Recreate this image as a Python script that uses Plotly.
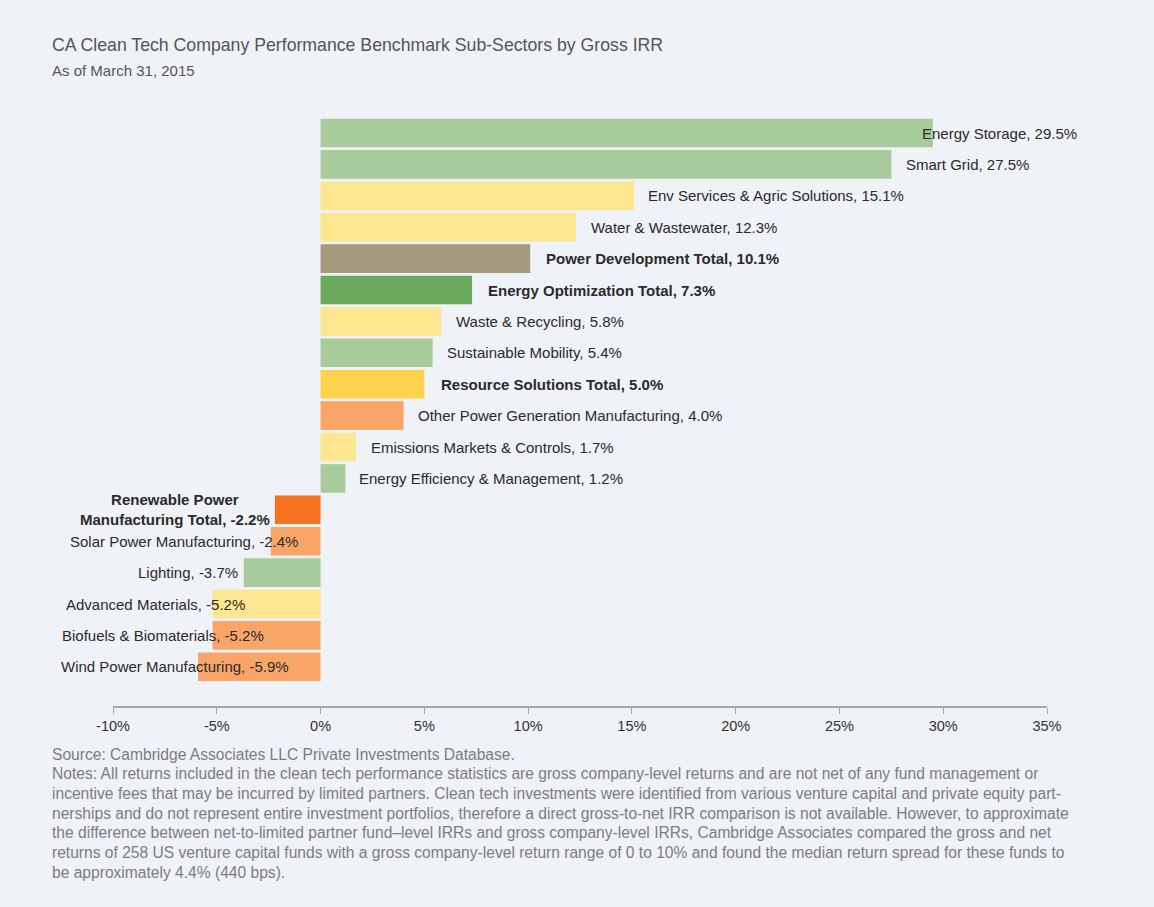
import plotly.graph_objects as go

# ---- data ----
sectors = [
    "Energy Storage", "Smart Grid", "Env Services & Agric Solutions", "Water & Wastewater",
    "Power Development Total", "Energy Optimization Total", "Waste & Recycling",
    "Sustainable Mobility", "Resource Solutions Total", "Other Power Generation Manufacturing",
    "Emissions Markets & Controls", "Energy Efficiency & Management",
    "Renewable Power Manufacturing Total", "Solar Power Manufacturing", "Lighting",
    "Advanced Materials", "Biofuels & Biomaterials", "Wind Power Manufacturing",
]
irr = [29.5, 27.5, 15.1, 12.3, 10.1, 7.3, 5.8, 5.4, 5.0, 4.0, 1.7, 1.2,
       -2.2, -2.4, -3.7, -5.2, -5.2, -5.9]
group = ["EO", "EO", "RS", "RS", "PDT", "EOT", "RS", "EO", "RST", "PD", "RS", "EO",
         "RPT", "PD", "EO", "RS", "PD", "PD"]
is_total = [False, False, False, False, True, True, False, False, True, False, False, False,
            True, False, False, False, False, False]
label_text = [
    "Energy Storage, 29.5%", "Smart Grid, 27.5%", "Env Services & Agric Solutions, 15.1%",
    "Water & Wastewater, 12.3%", "Power Development Total, 10.1%",
    "Energy Optimization Total, 7.3%", "Waste & Recycling, 5.8%", "Sustainable Mobility, 5.4%",
    "Resource Solutions Total, 5.0%", "Other Power Generation Manufacturing, 4.0%",
    "Emissions Markets & Controls, 1.7%", "Energy Efficiency & Management, 1.2%",
    "Renewable Power<br>Manufacturing Total, -2.2%", "Solar Power Manufacturing, -2.4%",
    "Lighting, -3.7%", "Advanced Materials, -5.2%", "Biofuels & Biomaterials, -5.2%",
    "Wind Power Manufacturing, -5.9%",
]
x_ticks = [-10, -5, 0, 5, 10, 15, 20, 25, 30, 35]
footnote = [
    "Source: Cambridge Associates LLC Private Investments Database.",
    "Notes: All returns included in the clean tech performance statistics are gross company-level returns and are not net of any fund management or",
    "incentive fees that may be incurred by limited partners. Clean tech investments were identified from various venture capital and private equity part-",
    "nerships and do not represent entire investment portfolios, therefore a direct gross-to-net IRR comparison is not available. However, to approximate",
    "the difference between net-to-limited partner fund\u2013level IRRs and gross company-level IRRs, Cambridge Associates compared the gross and net",
    "returns of 258 US venture capital funds with a gross company-level return range of 0 to 10% and found the median return spread for these funds to",
    "be approximately 4.4% (440 bps).",
]

# ---- styles ----
palette = {
    "EO": "#a8cb9b", "RS": "#fde690", "PDT": "#a39a7d", "EOT": "#6caa5f",
    "RST": "#fdd34c", "PD": "#f9a568", "RPT": "#f7731f",
}
# pixel shifts of labels relative to bar end
label_shift = [-13, 13, 12, 13, 14, 14, 13, 12, 15, 12, 13, 12,
               -3, 29, -4, 34, 53, 93]

W, H = 1154, 907
ML, MR, MT, MB = 113, W - 1047, 118, H - 706
plot_h = H - MT - MB
pitch = 31.4
y_top = -15 / pitch
y_bot = y_top + plot_h / pitch

fig = go.Figure()
fig.add_trace(go.Bar(
    x=irr, y=sectors, orientation="h",
    marker=dict(color=[palette[g] for g in group], line=dict(width=0)),
    width=0.91, hoverinfo="x+y",
))

FONT = "Arial, Liberation Sans, sans-serif"
for s, v, t, tot, sh in zip(sectors, irr, label_text, is_total, label_shift):
    txt = f"<b>{t}</b>" if tot else t
    fig.add_annotation(
        x=v, y=s, xref="x", yref="y", text=txt, showarrow=False,
        xanchor="left" if v >= 0 else "right", xshift=sh,
        align="center", font=dict(family=FONT, size=15, color="#2b2b2b"),
    )


def py(p):
    return (H - MB - p) / plot_h


annots = [
    ("CA Clean Tech Company Performance Benchmark Sub-Sectors by Gross IRR", 45, 17.7, "#555555"),
    ("As of March 31, 2015", 71, 15, "#555555"),
]
for i, line in enumerate(footnote):
    annots.append((line, 754 + i * 19.7, 15.6, "#7d7d7d"))

for txt, ypix, sz, col in annots:
    fig.add_annotation(
        x=(50 - ML) / (W - ML - MR), y=py(ypix), xref="paper", yref="paper",
        xanchor="left", yanchor="middle", text=txt, showarrow=False,
        font=dict(family=FONT, size=sz, color=col),
    )

fig.update_layout(
    width=W, height=H,
    margin=dict(l=ML, r=MR, t=MT, b=MB, pad=0),
    paper_bgcolor="#eff2f7", plot_bgcolor="#eff2f7",
    showlegend=False, bargap=0.09,
    font=dict(family=FONT, color="#333333"),
)
fig.update_xaxes(
    range=[-10, 35], tickvals=x_ticks, ticktext=[f"{t}%" for t in x_ticks],
    showgrid=False, zeroline=False, showline=True, linecolor="#a8a8a8", linewidth=2,
    ticks="outside", ticklen=6, tickcolor="#a8a8a8", tickwidth=1,
    tickfont=dict(family=FONT, size=14.5, color="#333333"),
)
fig.update_yaxes(
    range=[y_bot, y_top], showticklabels=False, showgrid=False, zeroline=False,
    showline=False, ticks="",
)

fig.write_html(
    "out.html",
    config={"displayModeBar": False},
    post_script="document.body.style.margin='0px';document.body.style.background='#eff2f7';",
)
